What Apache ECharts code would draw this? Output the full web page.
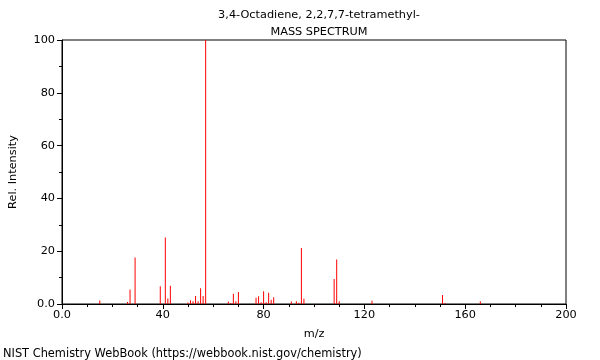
<!DOCTYPE html>
<html>
<head>
<meta charset="utf-8">
<script src="https://cdn.jsdelivr.net/npm/echarts@6/dist/echarts.min.js"></script>
<style>html,body{margin:0;padding:0;background:#fff}#c{width:600px;height:360px}</style>
</head>
<body>
<div id="c"></div>
<script>
var titleLines = ["3,4-Octadiene, 2,2,7,7-tetramethyl-", "MASS SPECTRUM"];
var footer = "NIST Chemistry WebBook (https://webbook.nist.gov/chemistry)";
var xName = "m/z";
var yName = "Rel. Intensity";
var mz = [15,26,27,29,39,41,42,43,50,51,52,53,54,55,56,57,66,67,68,69,70,77,78,79,80,81,82,83,84,91,93,94,95,96,108,109,110,123,151,152,166];
var intensity = [1.3,0.8,5.5,17.6,6.7,25.2,2.1,6.9,0.6,1.4,1.0,3.0,1.0,6.0,3.0,100,0.9,0.4,3.9,1.0,4.5,2.4,2.9,0.7,4.8,0.7,4.3,1.6,2.6,0.9,1.0,0.5,21.2,2.0,9.5,16.9,1.0,1.2,3.4,0.4,1.0];

var font = "DejaVu Sans";
var data = mz.map(function(m, i){ return [m, intensity[i]]; });
var chart = echarts.init(document.getElementById('c'), null, {renderer: 'canvas'});
chart.setOption({
  animation: false,
  textStyle: {fontFamily: font},
  title: {
    text: titleLines.join("\n"),
    left: 314, top: 2, textAlign: 'center',
    textStyle: {fontFamily: font, fontSize: 11.3, fontWeight: 'normal', color: '#000', lineHeight: 17}
  },
  grid: {left: 61, right: 34, top: 40, bottom: 56, show: true, borderColor: '#000', borderWidth: 1, backgroundColor: 'transparent'},
  xAxis: {
    type: 'value', min: 0, max: 200, interval: 40,
    name: xName, nameLocation: 'middle', nameGap: 25,
    nameTextStyle: {fontFamily: font, fontSize: 11.3, color: '#000'},
    axisLine: {show: true, onZero: false, lineStyle: {color: '#000', width: 1}},
    axisTick: {show: true, inside: false, length: 5, lineStyle: {color: '#000'}},
    minorTick: {show: true, splitNumber: 4, length: 3, lineStyle: {color: '#000'}},
    splitLine: {show: false},
    axisLabel: {fontFamily: font, fontSize: 11.3, color: '#000', margin: 6,
      formatter: function(v){ return v === 0 ? '0.0' : String(v); }}
  },
  yAxis: {
    type: 'value', min: 0, max: 100, interval: 20,
    name: yName, nameLocation: 'middle', nameGap: 43,
    nameTextStyle: {fontFamily: font, fontSize: 11.3, color: '#000'},
    axisLine: {show: true, lineStyle: {color: '#000', width: 1}},
    axisTick: {show: true, inside: false, length: 5, lineStyle: {color: '#000'}},
    minorTick: {show: true, splitNumber: 2, length: 3, lineStyle: {color: '#000'}},
    splitLine: {show: false},
    axisLabel: {fontFamily: font, fontSize: 11.3, color: '#000', margin: 7,
      formatter: function(v){ return v === 0 ? '0.0' : String(v); }}
  },
  series: [{
    type: 'bar', data: data, barWidth: 1, barGap: '-100%',
    itemStyle: {color: '#ff0000'}, silent: true
  }],
  graphic: [{
    type: 'text', left: 3, top: 349,
    style: {text: footer, fontFamily: font, fontSize: 11.4, fill: '#000'}
  }]
});
</script>
</body>
</html>
